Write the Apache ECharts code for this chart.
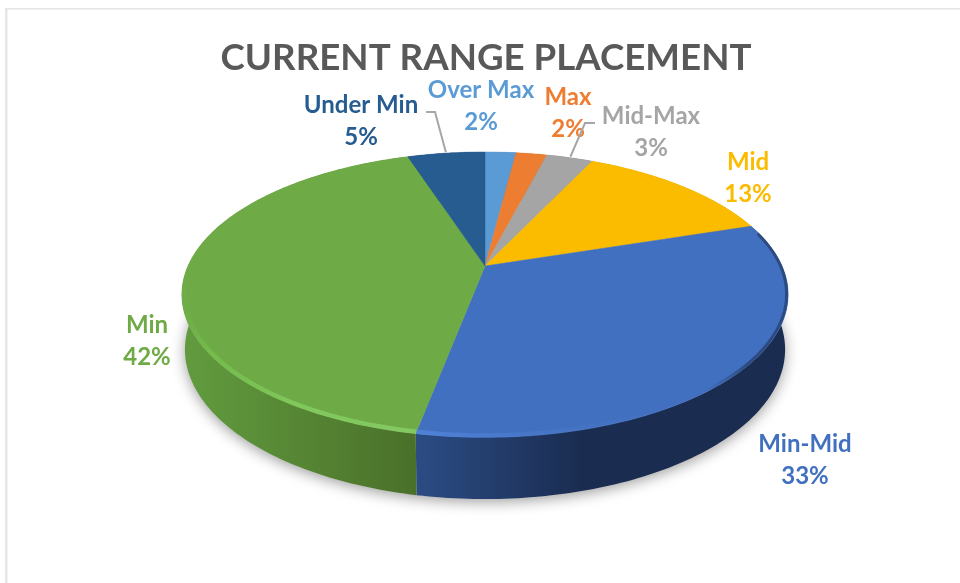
<!DOCTYPE html>
<html>
<head>
<meta charset="utf-8">
<title>Current Range Placement</title>
<script src="https://cdn.jsdelivr.net/npm/echarts@6/dist/echarts.min.js"></script>
<style>
  html, body { margin: 0; padding: 0; background: #fff; }
  #main { width: 960px; height: 583px; }
</style>
</head>
<body>
<div id="main"></div>
<script>
const titleText = "CURRENT RANGE PLACEMENT";
const categories = ["Over Max", "Max", "Mid-Max", "Mid", "Min-Mid", "Min", "Under Min"];
const shareValues = [2, 2, 3, 13, 33, 42, 5];
const sliceColors = ["#5B9BD5", "#ED7D31", "#A5A5A5", "#FBBC00", "#4270C0", "#6EAB47", "#265C90"];

// side wall shading, only the two front slices are really seen
const sideStops = [
  ["#3f6f9a", "#3f6f9a"],
  ["#a85823", "#a85823"],
  ["#747474", "#747474"],
  ["#b38600", "#b38600"],
  ["#2b4c84", "#1a2c50"],
  ["#629c3f", "#4a7029"],
  ["#1a4266", "#1a4266"],
];

// the perspective tilt of the disc, in px of the page
const disc = { cx: 485, cy: 266, a: 297, b: 136.8, k: -0.2 };
// bottom outline of the wall, scaled from the top ellipse
const base = { cx: 486, topCy: 295, cy: 350, scaleX: 0.99, scaleY: 1.05 };

// label centres and leader elbows, same order as categories
const labelCenters = [[481, 106], [568, 113], [651, 132], [748, 178], [805, 460], [147, 341], [361, 121]];
const leaderElbows = [null, null, [[595, 123], [585, 123]], null, null, null, [[426, 112], [435, 112]]];

let total = 0;
const sliceRows = shareValues.map((value, i) => {
  const row = [i, value, total];
  total += value;
  return row;
});
sliceRows.forEach((row) => {
  row[2] = row[2] / total;
  row.push(row[2] + row[1] / total);
});

// fraction of the full turn -> page px, clockwise from 12 o'clock
function rimPoint(frac, r) {
  const t = frac * Math.PI * 2;
  const u = r * Math.sin(t);
  const v = -r * Math.cos(t);
  const w = 1 + disc.k * v;
  return [disc.cx + (disc.a * u) / w, disc.cy + (disc.b * v) / w];
}

function basePoint(frac) {
  const p = rimPoint(frac, 1);
  return [
    base.cx + (p[0] - base.cx) * base.scaleX,
    base.cy + (p[1] - base.topCy) * base.scaleY,
  ];
}

function arc(from, to, fn) {
  const pts = [];
  const steps = Math.max(2, Math.ceil((to - from) * 360));
  for (let i = 0; i <= steps; i++) {
    pts.push(fn(from + ((to - from) * i) / steps));
  }
  return pts;
}

function renderShadow() {
  return {
    type: "polygon",
    shape: { points: arc(0, 1, basePoint) },
    style: {
      fill: "#d8d8d8",
      shadowColor: "rgba(0,0,0,0.38)",
      shadowBlur: 14,
      shadowOffsetY: 3,
    },
  };
}

function renderSide(params, api) {
  const i = api.value(0);
  const top = arc(api.value(2), api.value(3), (f) => rimPoint(f, 1));
  const bottom = arc(api.value(2), api.value(3), basePoint).reverse();
  return {
    type: "polygon",
    shape: { points: top.concat(bottom) },
    style: {
      fill: new echarts.graphic.LinearGradient(0, 0, 1, 0,
        i === 4
          ? [
              { offset: 0, color: sideStops[i][0] },
              { offset: 0.45, color: sideStops[i][1] },
              { offset: 1, color: sideStops[i][1] },
            ]
          : [
              { offset: 0, color: sideStops[i][0] },
              { offset: 1, color: sideStops[i][1] },
            ]),
    },
  };
}

function renderTop(params, api) {
  const i = api.value(0);
  const pts = arc(api.value(2), api.value(3), (f) => rimPoint(f, 1));
  pts.push([disc.cx, disc.cy]);
  return {
    type: "polygon",
    shape: { points: pts },
    style: { fill: sliceColors[i], stroke: sliceColors[i], lineWidth: 0.5 },
  };
}

// the soft lit edge of the bevel on the two front slices
function renderBevel(params, api) {
  const i = api.value(0);
  if (i !== 4 && i !== 5) return null;
  const start = api.value(2);
  const end = api.value(3);
  const rimLine = (from, to, r) => arc(from, to, (f) => rimPoint(f, r));
  if (i === 4) {
    return {
      type: "group",
      children: [
        {
          type: "polyline",
          shape: { points: rimLine(start + 0.01, end - 0.14, 0.995) },
          style: {
            fill: null,
            stroke: new echarts.graphic.LinearGradient(0, 0, 1, 0, [
              { offset: 0, color: "rgba(26,44,80,0)" },
              { offset: 0.5, color: "rgba(26,44,80,0.55)" },
              { offset: 1, color: "rgba(26,44,80,0.55)" },
            ]),
            lineWidth: 3,
          },
        },
        {
          type: "polyline",
          shape: { points: rimLine(end - 0.17, end, 0.993) },
          style: {
            fill: null,
            stroke: new echarts.graphic.LinearGradient(0, 0, 1, 0, [
              { offset: 0, color: "#4f82d8" },
              { offset: 0.6, color: "rgba(70,115,195,0.5)" },
              { offset: 1, color: "rgba(60,100,180,0)" },
            ]),
            lineWidth: 4.5,
          },
        },
      ],
    };
  }
  return {
    type: "polyline",
    shape: { points: rimLine(start, start + 0.2, 0.993) },
    style: {
      fill: null,
      stroke: new echarts.graphic.LinearGradient(0, 0, 1, 0, [
        { offset: 0, color: "rgba(116,187,76,0)" },
        { offset: 0.12, color: "#74bb4c" },
        { offset: 0.5, color: "#80c85c" },
        { offset: 1, color: "#84c864" },
      ]),
      lineWidth: 4.5,
    },
  };
}

function renderLabel(params, api) {
  const i = api.value(0);
  const center = labelCenters[i];
  const children = [];
  if (leaderElbows[i]) {
    const mid = (api.value(2) + api.value(3)) / 2;
    children.push({
      type: "polyline",
      shape: { points: leaderElbows[i].concat([rimPoint(mid, 1.01)]) },
      style: { fill: null, stroke: "#a6a6a6", lineWidth: 2 },
    });
  }
  children.push({
    type: "text",
    style: {
      text: categories[i] + "\n" + api.value(1) + "%",
      x: center[0],
      y: center[1],
      align: "center",
      verticalAlign: "middle",
      fill: sliceColors[i],
      font: "bold 24px Lato",
      lineHeight: 32,
    },
  });
  return { type: "group", children: children };
}

const myChart = echarts.init(document.getElementById("main"), null, { renderer: "canvas" });
const customBase = { type: "custom", coordinateSystem: "none", data: sliceRows, silent: true, animation: false };

myChart.setOption({
  animation: false,
  backgroundColor: "#fff",
  title: {
    text: titleText,
    left: 481,
    top: 35,
    textAlign: "center",
    textStyle: { color: "#595959", fontFamily: "Lato", fontWeight: "bold", fontSize: 36.7 },
  },
  graphic: [
    { type: "rect", shape: { x: 5, y: 8, width: 955, height: 1.5 }, style: { fill: "#e4e4e4" } },
    { type: "rect", shape: { x: 5, y: 8, width: 2.5, height: 575 }, style: { fill: "#e6e6e6" } },
  ],
  series: [
    { type: "custom", coordinateSystem: "none", data: [[0]], silent: true, z: 1, renderItem: renderShadow },
    Object.assign({}, customBase, { z: 2, renderItem: renderSide }),
    Object.assign({}, customBase, { z: 3, renderItem: renderTop }),
    Object.assign({}, customBase, { z: 4, renderItem: renderBevel }),
    Object.assign({}, customBase, { z: 5, renderItem: renderLabel }),
  ],
});
</script>
</body>
</html>
